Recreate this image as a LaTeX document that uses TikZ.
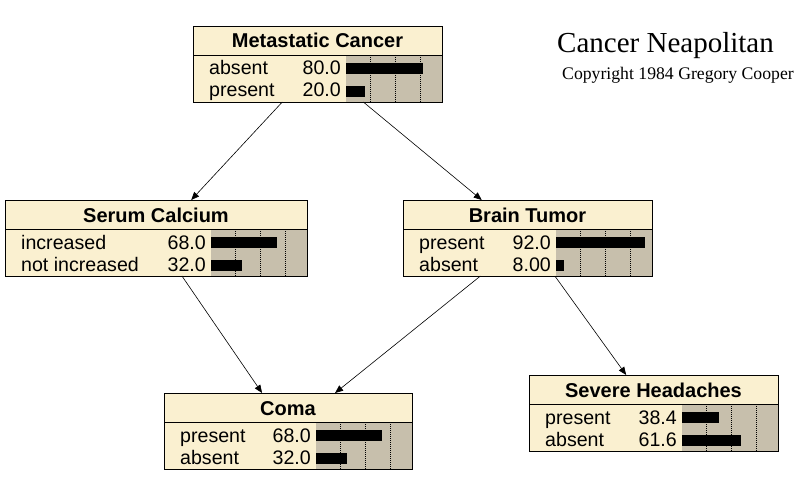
\documentclass[tikz,border=0pt]{standalone}
\usepackage{fontspec}
\setmainfont{Liberation Sans}
\newfontfamily\serifttl{Liberation Serif}
\usetikzlibrary{arrows.meta}
\definecolor{beige}{RGB}{250,240,208}
\definecolor{barbg}{RGB}{199,191,172}
\tikzset{
  bnbox/.style={draw=black, line width=0.8pt, fill=none, inner sep=0pt, outer sep=0pt, rectangle},
  bntitle/.style={font=\fontsize{20}{20}\selectfont\bfseries, inner sep=0pt, anchor=base},
  bnrow/.style={font=\fontsize{19.6}{19.6}\selectfont, inner sep=0pt},
  gridline/.style={black, line width=0.6pt, dash pattern=on 1pt off 1pt},
  link/.style={black, line width=0.6pt, -{Triangle[length=8pt,width=6.5pt]}},
}
% #1 name, #2 left, #3 top, #4 width, #5 title, #6 label1, #7 value1, #8 label2, #9 value2
\newcommand\bnnode[9]{%
  \fill[beige] (#2,#3) rectangle (#2+#4,#3+76);
  \fill[barbg] (#2+#4-96,#3+29) rectangle (#2+#4,#3+76);
  \foreach \g in {24,49,74}{\draw[gridline] (#2+#4-96+\g,#3+29) -- (#2+#4-96+\g,#3+76);}
  \fill[black] (#2+#4-96,#3+37) rectangle (#2+#4-96+#7*0.965,#3+48);
  \fill[black] (#2+#4-96,#3+60) rectangle (#2+#4-96+#9*0.965,#3+71);
  \draw[line width=0.8pt] (#2,#3+29) -- (#2+#4,#3+29);
  \node[bnbox, minimum width=#4pt, minimum height=76pt, anchor=north west] (#1) at (#2,#3) {};
  \node[bntitle] (#1-t) at (#2+#4/2,#3+22) {#5};
  \node[bnrow, anchor=base west] (#1-a) at (#2+16,#3+49) {#6};
  \node[bnrow, anchor=base east] (#1-av) at (#2+#4-101,#3+49) {#7};
  \node[bnrow, anchor=base west] (#1-b) at (#2+16,#3+71) {#8};
  \node[bnrow, anchor=base east] (#1-bv) at (#2+#4-101,#3+71) {#9};
}
\begin{document}
\begin{tikzpicture}[x=1pt,y=-1pt]
\useasboundingbox[fill=white] (0,0) rectangle (805,481);
\bnnode{mc}{193}{26}{249}{Metastatic Cancer}{absent}{80.0}{present}{20.0}
\bnnode{sc}{5}{200}{302}{Serum Calcium}{increased}{68.0}{not increased}{32.0}
\bnnode{bt}{403}{200}{249}{Brain Tumor}{present}{92.0}{absent}{8.00}
\bnnode{coma}{164}{393}{248}{Coma}{present}{68.0}{absent}{32.0}
\bnnode{sh}{529}{375}{249}{Severe Headaches}{present}{38.4}{absent}{61.6}
\draw[link] (mc) -- (sc);
\draw[link] (mc) -- (bt);
\draw[link] (sc) -- (coma);
\draw[link] (bt) -- (coma);
\draw[link] (bt) -- (sh);
\node[font=\serifttl\fontsize{29}{29}\selectfont, anchor=base west, inner sep=0pt] (ttl) at (557,53) {Cancer Neapolitan};
\node[font=\serifttl\fontsize{17.7}{17.7}\selectfont, anchor=base west, inner sep=0pt] (copy) at (562,80) {Copyright 1984 Gregory Cooper};
\end{tikzpicture}
\end{document}
